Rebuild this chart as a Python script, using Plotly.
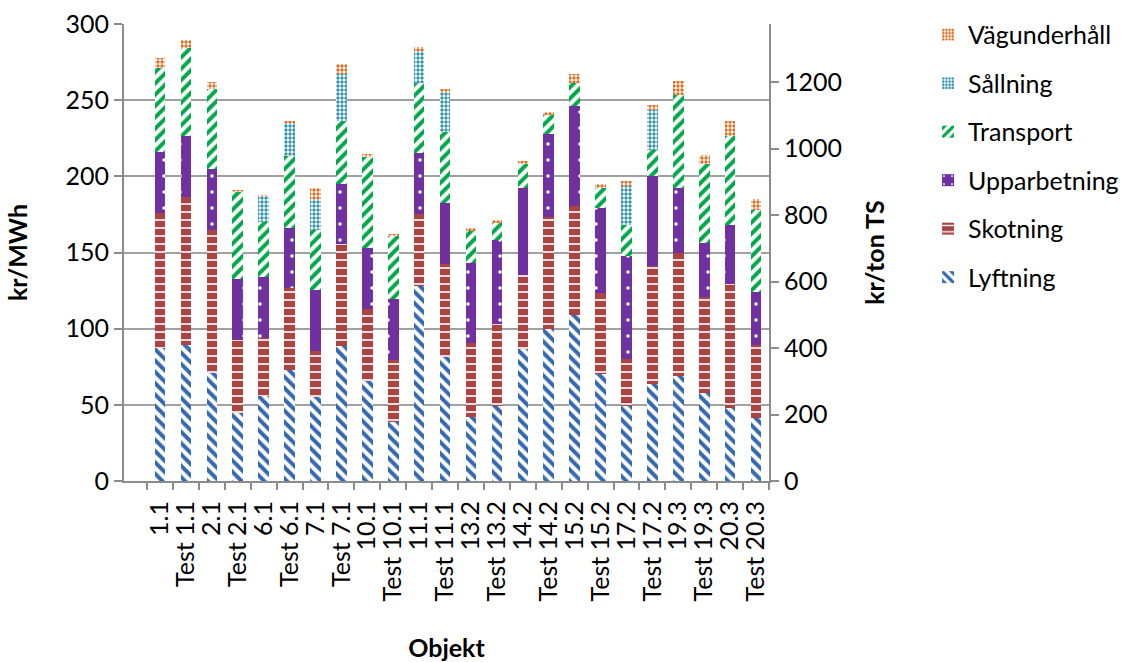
import plotly.graph_objects as go

categories = ["1.1", "Test 1.1", "2.1", "Test 2.1", "6.1", "Test 6.1", "7.1", "Test 7.1",
              "10.1", "Test 10.1", "11.1", "Test 11.1", "13.2", "Test 13.2", "14.2", "Test 14.2",
              "15.2", "Test 15.2", "17.2", "Test 17.2", "19.3", "Test 19.3", "20.3", "Test 20.3"]

lyftning = [87.5, 89.0, 71.1, 44.8, 55.5, 72.6, 55.1, 88.5,
            65.8, 38.5, 128.3, 81.3, 42.0, 49.4, 86.8, 99.5,
            108.7, 70.4, 49.2, 63.4, 69.1, 57.7, 48.1, 41.5]
skotning = [88.7, 97.5, 94.0, 47.5, 38.5, 53.8, 30.4, 67.2,
            47.2, 41.1, 47.0, 61.2, 48.7, 53.8, 48.3, 73.7,
            71.7, 52.9, 31.0, 77.8, 80.7, 63.4, 80.9, 47.7]
upparbetning = [39.8, 39.8, 39.8, 40.2, 39.8, 39.8, 40.0, 39.3,
                39.8, 39.8, 39.8, 39.8, 52.3, 54.9, 57.5, 54.8,
                66.0, 55.8, 67.2, 59.1, 42.4, 35.0, 39.3, 35.2]
transport = [54.9, 57.9, 52.6, 57.0, 36.1, 47.2, 39.6, 41.6,
             59.7, 41.7, 45.9, 47.0, 20.8, 11.3, 15.5, 12.5,
             14.9, 13.3, 20.9, 17.0, 61.4, 52.0, 58.2, 53.8]
sallning = [0, 0, 0, 0, 16.8, 22.1, 20.1, 30.6,
            0, 0, 21.0, 25.2, 0, 0, 0, 0,
            0, 0, 25.2, 26.2, 0, 0, 0, 0]
vagunderhall = [6.8, 5.3, 4.6, 1.6, 0.9, 1.1, 7.4, 6.3,
                2.2, 1.1, 3.1, 2.8, 2.4, 1.8, 2.2, 1.7,
                5.9, 2.6, 3.7, 3.5, 8.8, 5.9, 10.1, 7.0]

left_ticks = [0, 50, 100, 150, 200, 250, 300]
right_ticks = [0, 200, 400, 600, 800, 1000, 1200]
mwh_per_ton = 4.583  # kr/ton TS per kr/MWh

FONT = "Lato"
FS = 25
series = [
    ("Lyftning", lyftning, dict(shape="\\", fgcolor="#3468B0", bgcolor="white", size=8, solidity=0.5, fgopacity=1)),
    ("Skotning", skotning, dict(shape="-", fgcolor="white", bgcolor="#A94442", size=8, solidity=0.2, fgopacity=1)),
    ("Upparbetning", upparbetning, dict(shape=".", fgcolor="white", bgcolor="#7030A0", size=16, solidity=0.04, fgopacity=1)),
    ("Transport", transport, dict(shape="/", fgcolor="#00A848", bgcolor="white", size=8, solidity=0.5, fgopacity=1)),
    ("Sållning", sallning, dict(shape=".", fgcolor="#3192B0", bgcolor="white", size=4, solidity=0.55, fgopacity=1)),
    ("Vägunderhåll", vagunderhall, dict(shape=".", fgcolor="#E06E22", bgcolor="white", size=4, solidity=0.55, fgopacity=1)),
]

fig = go.Figure()
n = len(series)
for i, (name, vals, pat) in enumerate(series):
    fig.add_trace(go.Bar(
        x=categories, y=vals, name=name, legendgroup=name, legendrank=100 * (n - i),
        marker=dict(color=pat["bgcolor"], line=dict(width=0), pattern=pat),
    ))

# invisible helper to activate secondary axis
fig.add_trace(go.Scatter(x=[categories[0]], y=[0], yaxis="y2", mode="markers",
                         marker=dict(opacity=0), showlegend=False, hoverinfo="skip"))

axis_col = "#8C8C8C"
fig.update_layout(
    width=1126, height=662,
    barmode="stack", bargap=0.59,
    plot_bgcolor="white", paper_bgcolor="white",
    margin=dict(l=124, r=357, t=24, b=181, autoexpand=False),
    font=dict(family=FONT, size=FS, color="black"),
    xaxis=dict(
        type="category", tickangle=-90, tickson="boundaries",
        tickmode="array", tickvals=categories, ticktext=categories,
        showline=True, linecolor=axis_col, linewidth=2,
        ticks="outside", ticklen=7, tickcolor=axis_col, tickwidth=2,
        ticklabelstandoff=8,
        title=dict(text="<b>Objekt</b>", font=dict(size=FS), standoff=41),
        tickfont=dict(size=FS),
    ),
    yaxis=dict(
        range=[0, 300], tickvals=left_ticks,
        showgrid=True, gridcolor="#A0A0A0", gridwidth=2,
        showline=True, linecolor=axis_col, linewidth=2,
        ticks="outside", ticklen=8, tickcolor=axis_col, tickwidth=2,
        title=dict(text="<b>kr/MWh</b>", font=dict(size=FS), standoff=31),
        zeroline=False,
    ),
    yaxis2=dict(
        overlaying="y", side="right",
        range=[0, 300 * mwh_per_ton], tickvals=right_ticks,
        showgrid=False, zeroline=False,
        showline=True, linecolor=axis_col, linewidth=2,
        ticks="outside", ticklen=8, tickcolor=axis_col, tickwidth=2,
        title=dict(text="<b>kr/ton TS</b>", font=dict(size=FS), standoff=25),
    ),
    legend=dict(
        xref="container", yref="container",
        x=0.8242, y=0.982, xanchor="left", yanchor="top",
        traceorder="grouped", tracegroupgap=13,
        font=dict(size=FS), itemwidth=30,
        bgcolor="rgba(0,0,0,0)",
    ),
)

fig.write_html("out.html")
